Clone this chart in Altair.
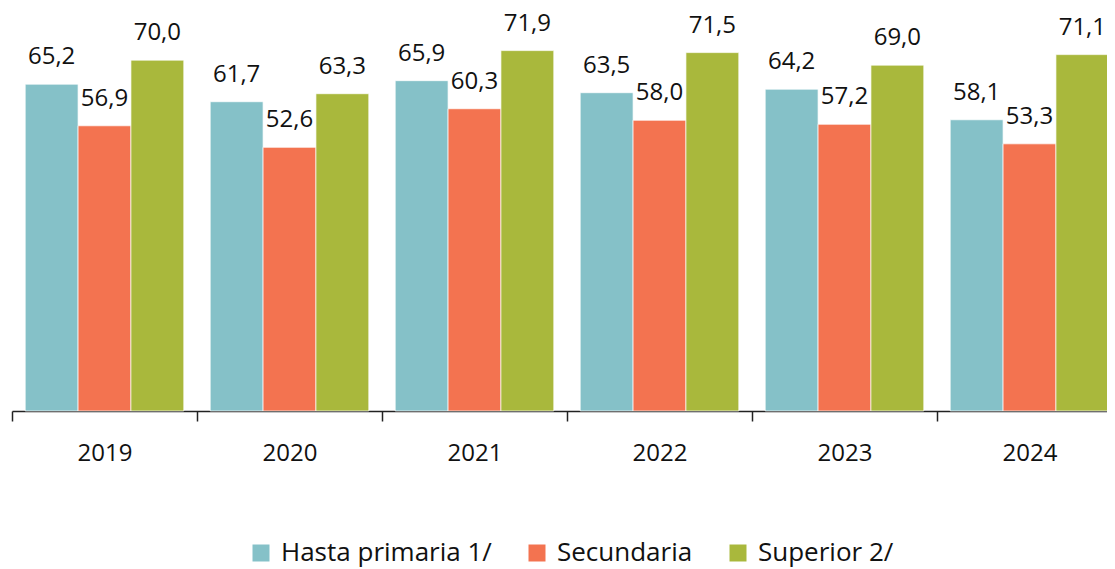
import altair as alt
import pandas as pd

years = ["2019", "2020", "2021", "2022", "2023", "2024"]
series = ["Hasta primaria 1/", "Secundaria", "Superior 2/"]
hasta_primaria = [65.2, 61.7, 65.9, 63.5, 64.2, 58.1]
secundaria = [56.9, 52.6, 60.3, 58.0, 57.2, 53.3]
superior = [70.0, 63.3, 71.9, 71.5, 69.0, 71.1]
colors = ["#85C1C8", "#F37350", "#A9B83C"]

rows = []
for name, vals in zip(series, [hasta_primaria, secundaria, superior]):
    for y, v in zip(years, vals):
        rows.append({"year": y, "serie": name, "value": v,
                     "label": f"{v:.1f}".replace(".", ",")})
df = pd.DataFrame(rows)

FONT = "Open Sans"

x = alt.X("year:N", sort=years, title=None,
          scale=alt.Scale(range=[0, 1110], paddingInner=0, paddingOuter=0),
          axis=alt.Axis(labelAngle=0, labelFontSize=24, labelFont=FONT, labelColor="#111111",
                        domainColor="#222222", domainWidth=1.5, tickColor="#222222",
                        tickWidth=1.5, tickSize=10, tickBand="extent",
                        labelBaseline="alphabetic", labelPadding=39))
xo = alt.XOffset("serie:N", sort=series,
                 scale=alt.Scale(paddingOuter=0.25, paddingInner=0))
y = alt.Y("value:Q", scale=alt.Scale(domain=[0, 80], nice=False), axis=None)

base = alt.Chart(df)

bars = base.mark_bar(stroke="white", strokeWidth=0.7).encode(
    x=x, xOffset=xo, y=y,
    color=alt.Color("serie:N", sort=series,
                    scale=alt.Scale(domain=series, range=colors),
                    legend=alt.Legend(title=None, orient="none", direction="horizontal",
                                      legendX=236, legendY=530, symbolType="square",
                                      symbolSize=289, symbolStrokeWidth=0, symbolOpacity=1,
                                      labelFontSize=26, labelFont=FONT, labelColor="#111111",
                                      labelOffset=7, columnPadding=32, padding=0,
                                      labelLimit=400)),
)

labels = base.mark_text(fontSize=24, font=FONT, color="#111111",
                        baseline="alphabetic", dy=-20).encode(
    x=x, xOffset=xo, y=y, text="label:N",
)

chart = (bars + labels).properties(
    width=1095, height=401,
    autosize=alt.AutoSizeParams(type="none"),
    padding={"left": 4, "top": 2, "right": 0, "bottom": 158},
).configure_view(stroke=None)

chart.save("out.html", embed_options={"renderer": "svg", "actions": False})
